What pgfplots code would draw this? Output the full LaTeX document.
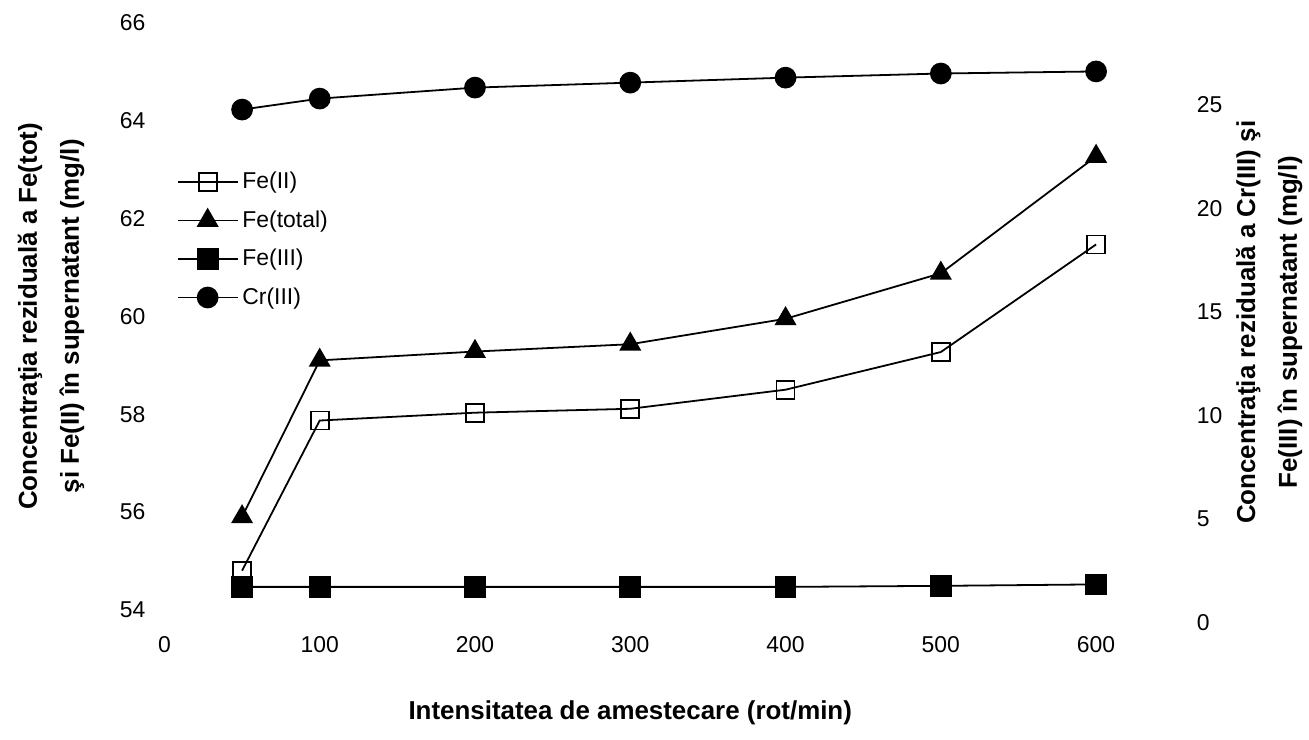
\documentclass[border=0pt]{standalone}
\usepackage{fontspec}
\setmainfont{Liberation Sans}
\usepackage{pgfplots}
\pgfplotsset{compat=1.18}

% left axis: Fe(II), Fe(total); right axis: Fe(III), Cr(III)
\pgfplotstableread{
x    feii   fetot
50   54.80  55.90
100  57.87  59.10
200  58.03  59.28
300  58.11  59.43
400  58.50  59.95
500  59.27  60.88
600  61.47  63.27
}\lefttab

\pgfplotstableread{
x    feiii  cr
50   1.73   24.76
100  1.73   25.29
200  1.73   25.82
300  1.73   26.06
400  1.73   26.30
500  1.78   26.50
600  1.85   26.60
}\righttab

\pgfplotsset{
  common/.style={
    scale only axis,
    width=467.5pt,
    xmin=0, xmax=600,
    axis line style={draw=none},
    tick style={draw=none},
    /pgf/number format/assume math mode=true,
    tick label style={font=\fontsize{11.5}{13}\selectfont},
    label style={font=\fontsize{13}{21}\selectfont\bfseries, align=center},
  },
  ser/.style={black, line width=0.9pt},
}

\begin{document}
\begin{tikzpicture}
\begin{axis}[
    common,
    at={(0,0)}, anchor=south west,
    height=294.5pt,
    ymin=54, ymax=66,
    axis lines*=left,
    xtick={0,100,...,600},
    ytick={54,56,...,66},
    x tick label style={yshift=-10pt},
    y tick label style={xshift=-6pt},
    xlabel={Intensitatea de amestecare (rot/min)},
    ylabel={Concentraţia reziduală a Fe(tot)\\şi Fe(II) în supernatant (mg/l)},
    xlabel style={yshift=-17pt},
    ylabel style={yshift=11pt},
    clip=false,
    legend style={draw=none, fill=none, at={(0.0065,0.76)}, anchor=north west,
      font=\fontsize{11.5}{13}\selectfont, row sep=5.5pt,
      /tikz/every even column/.append style={column sep=0pt}},
    legend cell align=left,
    legend image code/.code={
      \draw[mark repeat=2, mark phase=2, #1] plot coordinates {(0pt,0pt) (15pt,0pt) (30pt,0pt)};},
]
\addplot[ser, mark=square, mark size=4.5pt, mark options={solid, line width=0.9pt}]
  table[x=x, y=feii] {\lefttab};
\addlegendentry{Fe(II)}
\addplot[ser, mark=triangle*, mark size=5.5pt]
  table[x=x, y=fetot] {\lefttab};
\addlegendentry{Fe(total)}
\addlegendimage{ser, mark=square*, mark size=5pt}
\addlegendentry{Fe(III)}
\addlegendimage{ser, mark=*, mark size=5pt}
\addlegendentry{Cr(III)}
% keep the page the same size as the reference
\path (rel axis cs:-0.1765,-0.2207) rectangle (rel axis cs:1.2235,1.039);
\end{axis}

\begin{axis}[
    common,
    at={(0,-6.5pt)}, anchor=south west,
    height=301.6pt,
    ymin=0, ymax=29,
    axis x line=none,
    axis y line*=right,
    ytick={0,5,...,25},
    y tick label style={anchor=west, xshift=47pt},
    ylabel={Concentraţia reziduală a Cr(III) şi\\Fe(III) în supernatant (mg/l)},
    clip=false,
]
\addplot[ser, mark=square*, mark size=5pt] table[x=x, y=feiii] {\righttab};
\addplot[ser, mark=*, mark size=5pt] table[x=x, y=cr] {\righttab};
\end{axis}
\end{tikzpicture}
\end{document}
